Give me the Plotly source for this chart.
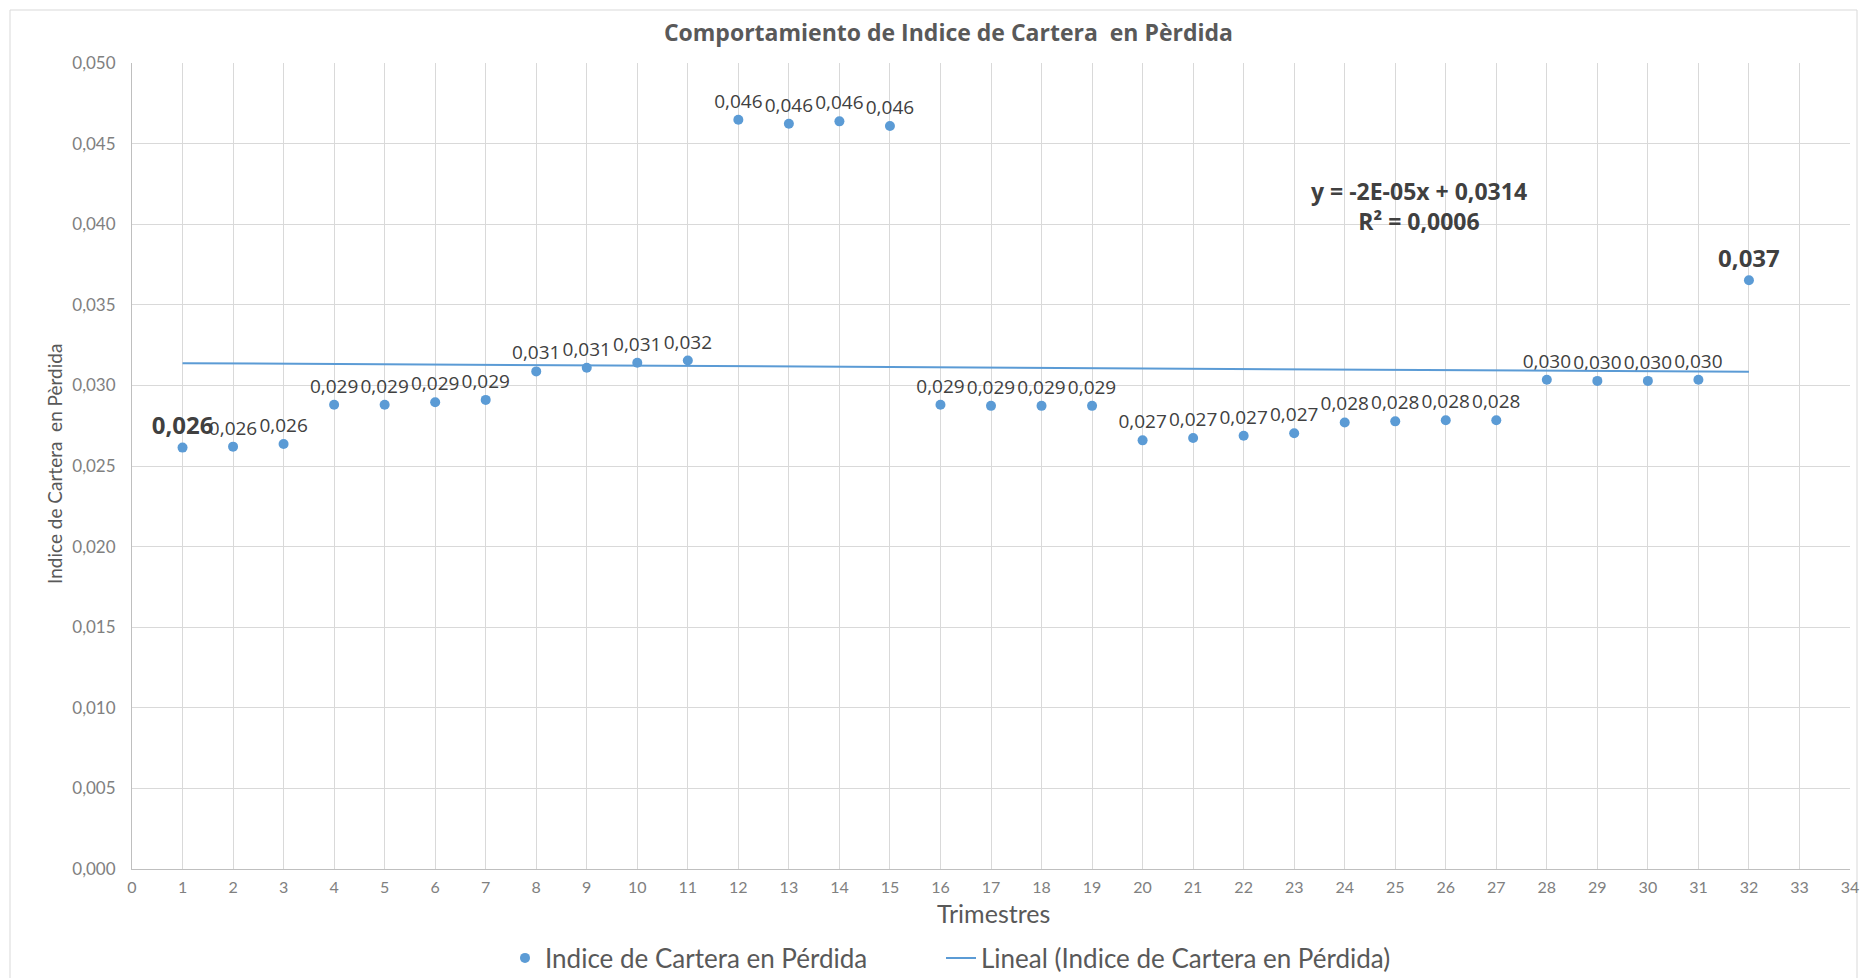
import numpy as np
import plotly.graph_objects as go

trimestres = [1, 2, 3, 4, 5, 6, 7, 8, 9, 10, 11, 12, 13, 14, 15, 16,
              17, 18, 19, 20, 21, 22, 23, 24, 25, 26, 27, 28, 29, 30, 31, 32]
indice = [0.02614, 0.02620, 0.02637, 0.02880, 0.02880, 0.02895, 0.02910, 0.03087,
          0.03110, 0.03140, 0.03154, 0.04648, 0.04623, 0.04638, 0.04609, 0.02880,
          0.02873, 0.02873, 0.02873, 0.02659, 0.02674, 0.02688, 0.02703, 0.02770,
          0.02777, 0.02784, 0.02784, 0.03035, 0.03028, 0.03028, 0.03035, 0.03652]
bold_labels = [1, 32]
y_ticks = [0.000, 0.005, 0.010, 0.015, 0.020, 0.025, 0.030, 0.035, 0.040, 0.045, 0.050]
x_ticks = list(range(0, 35))

BLUE = "#5b9bd5"
DARK = "#595959"
GRID = "#d9d9d9"
W, H = 1867, 978

labels = []
for t, v in zip(trimestres, indice):
    s = f"{v:.3f}".replace(".", ",")
    labels.append(f"<b>{s}</b>" if t in bold_labels else s)
label_sizes = [24 if t in bold_labels else 19 for t in trimestres]

slope, intercept = np.polyfit(trimestres, indice, 1)
trend_x = [trimestres[0], trimestres[-1]]
trend_y = [slope * x + intercept for x in trend_x]

fig = go.Figure()
fig.add_trace(go.Scatter(
    x=trimestres, y=indice, mode="markers+text",
    name="Indice de Cartera en Pérdida",
    marker=dict(color=BLUE, size=10),
    text=labels, textposition="top center",
    textfont=dict(family="Open Sans", size=label_sizes, color="#404040"),
    cliponaxis=False, legend="legend",
))
fig.add_trace(go.Scatter(
    x=trend_x, y=trend_y, mode="lines",
    name="Lineal (Indice de Cartera en Pérdida)",
    line=dict(color=BLUE, width=2), legend="legend2",
))

legend_common = dict(orientation="h", xref="container", yref="container",
                     xanchor="left", y=1 - 958 / H, yanchor="middle",
                     font=dict(family="Lato", size=26, color=DARK),
                     itemwidth=30, bgcolor="rgba(0,0,0,0)")

fig.update_layout(
    width=W, height=H,
    margin=dict(l=132, r=17, t=63, b=109, autoexpand=False),
    paper_bgcolor="white", plot_bgcolor="white",
    separators=",.",
    font=dict(family="Lato", color=DARK),
    title=dict(text="<b>Comportamiento de Indice de Cartera  en Pèrdida</b>",
               x=0.508, xanchor="center", y=1 - 33 / H, yanchor="middle",
               font=dict(family="Open Sans", size=23, color=DARK)),
    legend=dict(x=505 / W, **legend_common),
    legend2=dict(x=941 / W, **legend_common),
    showlegend=True,
    annotations=[
        dict(text="<b>y = -2E-05x + 0,0314</b><br><b>R² = 0,0006</b>",
             xref="paper", yref="paper",
             x=(1419 - 132) / 1718, y=(869 - 206) / 806,
             xanchor="center", yanchor="middle", showarrow=False, align="center",
             font=dict(family="Open Sans", size=23, color="#404040")),
        dict(text="Trimestres", xref="paper", yref="paper",
             x=(993 - 132) / 1718, y=(869 - 913) / 806,
             xanchor="center", yanchor="middle", showarrow=False,
             font=dict(family="Lato", size=25, color=DARK)),
        dict(text="Indice de Cartera  en Pèrdida", xref="paper", yref="paper",
             x=(54 - 132) / 1718, y=(869 - 464) / 806, textangle=-90,
             xanchor="center", yanchor="middle", showarrow=False,
             font=dict(family="Lato", size=19, color=DARK)),
    ],
    shapes=[dict(type="rect", xref="paper", yref="paper",
                 x0=(10 - 132) / 1718, x1=(1857 - 132) / 1718,
                 y0=-0.2, y1=(869 - 10) / 806,
                 line=dict(color="#d9d9d9", width=1), fillcolor="rgba(0,0,0,0)",
                 layer="below")],
)
fig.update_xaxes(
    range=[0, 34], tickmode="array", tickvals=x_ticks,
    showgrid=True, gridcolor=GRID, gridwidth=1,
    showline=True, linecolor="#bfbfbf", linewidth=1, zeroline=False,
    tickfont=dict(family="Lato", size=16, color="#808080"),
    ticks="", ticklabelstandoff=4, automargin=False,
)
fig.update_yaxes(
    range=[0, 0.050], tickmode="array", tickvals=y_ticks, tickformat=".3f",
    showgrid=True, gridcolor=GRID, gridwidth=1,
    showline=True, linecolor="#bfbfbf", linewidth=1, zeroline=False,
    tickfont=dict(family="Lato", size=17, color="#808080"),
    ticks="", ticklabelstandoff=12, automargin=False,
)

fig.write_html("out.html", config={"displayModeBar": False},
               post_script="document.body.style.margin='0';")
